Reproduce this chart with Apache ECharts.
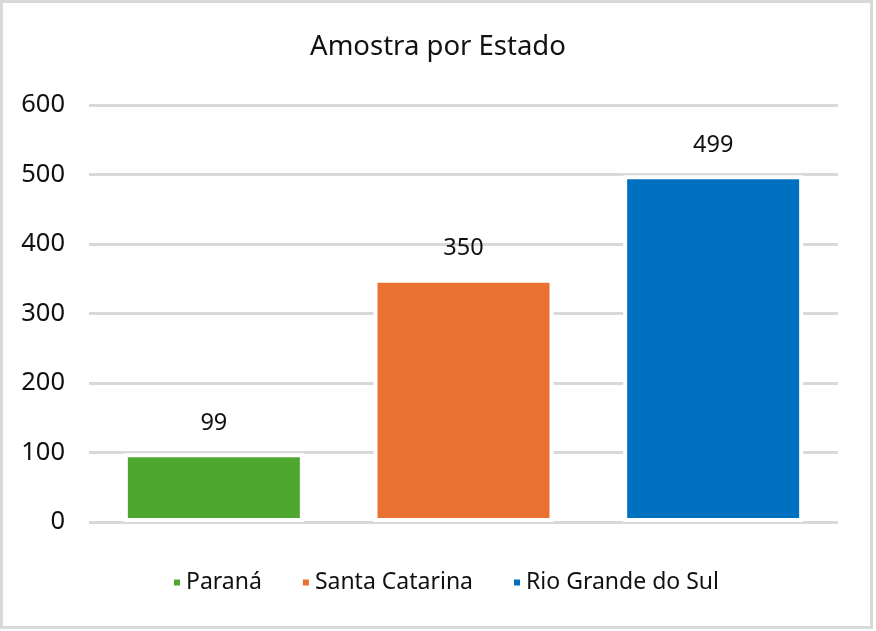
<!DOCTYPE html>
<html>
<head>
<meta charset="utf-8">
<script src="https://cdn.jsdelivr.net/npm/echarts@6/dist/echarts.min.js"></script>
<style>
  body { margin: 0; background: #fff; }
  #frame { position: absolute; left: 0; top: 0; width: 873px; height: 629px; box-sizing: border-box; border: 3px solid #d9d9d9; }
  #main { position: absolute; left: 0; top: 0; width: 876px; height: 631px; }
</style>
</head>
<body>
<div id="frame"></div>
<div id="main"></div>
<script>
var categories = ['Paraná', 'Santa Catarina', 'Rio Grande do Sul'];
var values = [99, 350, 499];
var colors = ['#4ea72e', '#e97132', '#0070c0'];
var yTicks = [0, 100, 200, 300, 400, 500, 600];

var myChart = echarts.init(document.getElementById('main'));
var fontName = 'Noto Sans';

// uma serie por estado, empilhadas para ficarem centradas
var seriesList = [];
for (var i = 0; i < categories.length; i++) {
    var d = [];
    for (var j = 0; j < categories.length; j++) {
        d.push(j === i ? values[i] : '-');
    }
    seriesList.push({
        name: categories[i],
        type: 'bar',
        stack: 'total',
        barWidth: 180,
        data: d,
        itemStyle: { color: colors[i], borderColor: '#fff', borderWidth: 4 },
        label: {
            show: true,
            position: 'top',
            distance: 18,
            color: '#111',
            fontSize: 23.5,
            fontFamily: fontName
        }
    });
}

myChart.setOption({
    animation: false,
    title: {
        text: 'Amostra por Estado',
        left: 'center',
        top: 28,
        textStyle: { color: '#111', fontSize: 27.5, fontWeight: 'normal', fontFamily: fontName }
    },
    legend: {
        data: categories,
        bottom: 32,
        left: 167,
        padding: 5,
        icon: 'rect',
        itemWidth: 8,
        itemHeight: 8,
        itemGap: 39,
        textStyle: { color: '#111', fontSize: 23, fontFamily: fontName }
    },
    grid: { left: 89, right: 38, top: 105, bottom: 109 },
    xAxis: {
        type: 'category',
        data: categories,
        axisLine: { show: false },
        axisTick: { show: false },
        axisLabel: { show: false }
    },
    yAxis: {
        type: 'value',
        min: yTicks[0],
        max: yTicks[yTicks.length - 1],
        interval: 100,
        axisLine: { show: false },
        axisTick: { show: false },
        axisLabel: { color: '#111', fontSize: 25.5, fontFamily: fontName, margin: 24 },
        splitLine: { lineStyle: { color: '#d9d9d9', width: 3 } }
    },
    series: seriesList
});
</script>
</body>
</html>
